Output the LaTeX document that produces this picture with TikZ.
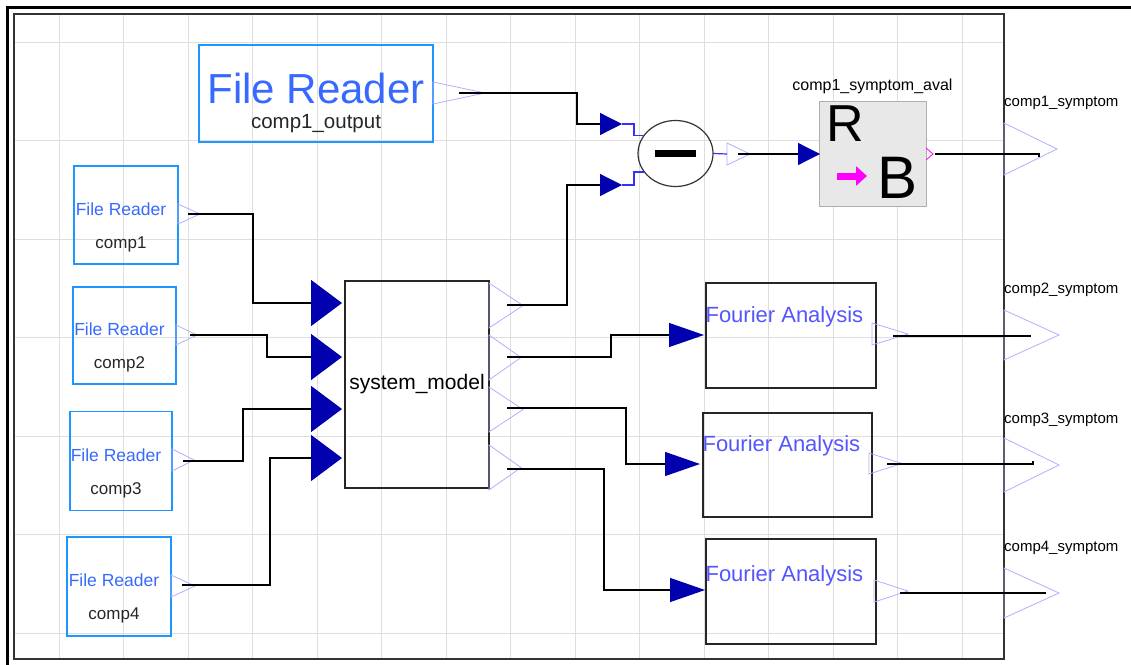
\documentclass[tikz,border=0pt]{standalone}
\usepackage{fontspec}
\setmainfont{Liberation Sans}
\usetikzlibrary{positioning, arrows.meta, shapes.geometric}

\definecolor{readerblue}{RGB}{30,150,255}
\definecolor{titleblue}{RGB}{55,105,255}
\definecolor{fourierblue}{RGB}{85,85,255}
\definecolor{portblue}{RGB}{175,175,255}
\definecolor{inblue}{RGB}{0,0,175}
\definecolor{linkblue}{RGB}{50,50,255}
\definecolor{gridgray}{RGB}{222,222,222}
\definecolor{avalfill}{RGB}{232,232,232}
\definecolor{avaldraw}{RGB}{175,175,175}
\definecolor{avalpink}{RGB}{255,0,255}

\begin{document}
\begin{tikzpicture}[
    x=1pt, y=-1pt,
    gridline/.style={
        draw=gridgray,
        line width=1pt
    },
    reader/.style={
        rectangle,
        draw=readerblue,
        line width=1.3pt,
        inner sep=0
    },
    readertitle/.style={
        text=titleblue,
        inner sep=0,
        font=\fontsize{17.5}{18}\selectfont
    },
    readername/.style={
        text=black!85,
        inner sep=0,
        font=\fontsize{17}{18}\selectfont
    },
    block/.style={
        rectangle,
        draw=black!85,
        line width=1.3pt,
        inner sep=0
    },
    fouriertext/.style={
        text=fourierblue,
        anchor=west,
        inner sep=0,
        font=\fontsize{22}{24}\selectfont
    },
    portlabel/.style={
        anchor=west,
        inner sep=0,
        font=\fontsize{15}{16}\selectfont
    },
    port/.style={draw=portblue, line width=0.8pt},
    wire/.style={draw=black, line width=1.2pt},
    link/.style={draw=linkblue, line width=1.2pt},
    feed/.style={-{Triangle[length=31pt, width=46pt, color=inblue]}},
    feedmid/.style={-{Triangle[length=35pt, width=24pt, color=inblue]}},
    feedsmall/.style={-{Triangle[length=22pt, width=22pt, color=inblue]}}
]
\useasboundingbox (0,0) rectangle (1131,664);

% Grid and frame
\foreach \gx in {0,...,14}
    \draw[gridline] ({59+64.5*\gx},14) -- ({59+64.5*\gx},659);
\foreach \gy in {0,...,6}
    \draw[gridline] (14,{42+98.5*\gy}) -- (1004,{42+98.5*\gy});
\draw[black!80, line width=1.5pt] (14,14) rectangle (1004,659);
\draw[line width=3pt] (7,670) -- (7,7) -- (1140,7);

% Big file reader
\node[reader, minimum width=234pt, minimum height=97pt] (bigreader) at (316,93.5) {};
\node[text=titleblue, inner sep=0, font=\fontsize{42}{44}\selectfont] at ([yshift=5.5pt]bigreader.center) {File Reader};
\node[readername, font=\fontsize{20.5}{22}\selectfont] at ([yshift=-30pt]bigreader.center) {comp1\_output};

% Small file readers
\node[reader, minimum width=104pt, minimum height=98pt] (reader1) at (126,215) {};
\node[reader, minimum width=103pt, minimum height=97pt] (reader2) at (124.5,335.5) {};
\node[reader, minimum width=102pt, minimum height=99pt] (reader3) at (121,461) {};
\node[reader, minimum width=104pt, minimum height=99pt] (reader4) at (119,586.5) {};
\foreach \r in {1,...,4} {
    \node[readertitle] at ([xshift=-5pt, yshift=6pt]reader\r.center) {File Reader};
    \node[readername] at ([xshift=-5pt, yshift=-29pt]reader\r.center) {comp\r};
}

% System model
\node[block, minimum width=144pt, minimum height=207pt, font=\fontsize{21}{22}\selectfont] (sysmodel) at (417,384.5) {system\_model};

% Subtraction
\node[ellipse, draw=black!80, line width=1.2pt, minimum width=75pt, minimum height=66pt, inner sep=0] (minus) at (675.5,153.5) {\rule{41pt}{7pt}};

% Symptom evaluation block
\node[rectangle, draw=avaldraw, fill=avalfill, line width=1pt, minimum width=107pt, minimum height=105pt] (aval) at (872.5,153.5) {};
\node[inner sep=0, font=\fontsize{52}{52}\selectfont] (avalr) at (845,124) {R};
\node[inner sep=0, font=\fontsize{60}{60}\selectfont] (avalb) at (897.5,177.5) {B};
\draw[avalpink, line width=7pt, -{Triangle[length=11pt, width=19pt]}] (837,176) -- (867,176);
\node[above=6pt of aval, inner sep=0, font=\fontsize{16}{17}\selectfont] (avallabel) {comp1\_symptom\_aval};

% Fourier analysis blocks
\node[block, minimum width=170pt, minimum height=105pt] (fourier1) at (791,335.5) {};
\node[block, minimum width=169pt, minimum height=104pt] (fourier2) at (787.5,465) {};
\node[block, minimum width=170pt, minimum height=105pt] (fourier3) at (791,591.5) {};
\node[fouriertext] at ([yshift=19pt]fourier1.west) {Fourier Analysis};
\node[fouriertext] at ([yshift=19pt]fourier2.west) {Fourier Analysis};
\node[fouriertext] at ([yshift=16pt]fourier3.west) {Fourier Analysis};

% Output port labels
\node[portlabel] (label1) at (1004,103) {comp1\_symptom};
\node[portlabel] (label2) at (1004,289.5) {comp2\_symptom};
\node[portlabel] (label3) at (1004,420) {comp3\_symptom};
\node[portlabel] (label4) at (1004,548) {comp4\_symptom};

% Output ports (base x / tip x / centre y / half height)
\foreach \bx/\tx/\cy/\hh in {433/485/93/11, 178/200/214/10, 176/197/335/10,
        172/194/460/11, 171/195/586/11, 489/523/305.5/22.5, 489/521/357.5/22.5,
        489/523/409.5/22.5, 489/521/467.5/22.5, 727/750/154/11, 872/908/334/11,
        869/902/463.5/10.5, 874/908/591/11, 1004/1057/149/26, 1004/1059/335/25,
        1004/1059/465/27, 1004/1059/593/25}
    \draw[port] (\bx,\cy-\hh) -- (\tx,\cy) -- (\bx,\cy+\hh) -- cycle;
\draw[avalpink, line width=0.8pt] (926,148) -- (933,154) -- (926,160);

% Connector ends
\coordinate (bigout) at (459,93);
\coordinate (reader1out) at (188,214);
\coordinate (reader2out) at (190,335);
\coordinate (reader3out) at (183,461);
\coordinate (reader4out) at (182,585);
\coordinate (sysin1) at (342,303);
\coordinate (sysin2) at (342,357);
\coordinate (sysin3) at (342,409);
\coordinate (sysin4) at (342,458);
\coordinate (sysout1) at (507,305);
\coordinate (sysout2) at (507,357);
\coordinate (sysout3) at (507,408);
\coordinate (sysout4) at (507,469);
\coordinate (minusin1) at (622,124);
\coordinate (minusin2) at (622,185);
\coordinate (minusout) at (727,154);
\coordinate (minuswire) at (738,154);
\coordinate (avalin) at (820,154);
\coordinate (avalout) at (935,154);
\coordinate (fourier1in) at (704,335);
\coordinate (fourier2in) at (700,464);
\coordinate (fourier3in) at (705,590);
\coordinate (fourier1out) at (893,336);
\coordinate (fourier2out) at (887,464);
\coordinate (fourier3out) at (900,593);
\coordinate (symptom1) at (1039,154);
\coordinate (symptom2) at (1031,336);
\coordinate (symptom3) at (1033,461);
\coordinate (symptom4) at (1046,593);

% Wires
\draw[wire, feed] (reader1out) -| ([xshift=-89pt]sysin1) -- (sysin1);
\draw[wire, feed] (reader2out) -| ([xshift=-75pt]sysin2) -- (sysin2);
\draw[wire, feed] (reader3out) -| ([xshift=-99pt]sysin3) -- (sysin3);
\draw[wire, feed] (reader4out) -| ([xshift=-72pt]sysin4) -- (sysin4);
\draw[wire, feedsmall] (bigout) -| ([xshift=-45pt]minusin1) -- (minusin1);
\draw[wire, feedsmall] (sysout1) -| ([xshift=-55pt]minusin2) -- (minusin2);
\draw[wire, feedmid] (sysout2) -| ([xshift=-93pt]fourier1in) -- (fourier1in);
\draw[wire, feedmid] (sysout3) -| ([xshift=-74pt]fourier2in) -- (fourier2in);
\draw[wire, feedmid] (sysout4) -| ([xshift=-101pt]fourier3in) -- (fourier3in);
\draw[link] (minusin1) -- ++(12,0) |- (minus.150);
\draw[link] (minusin2) -- ++(12,0) |- (minus.210);
\draw[link] (minus.east) -- (minusout);
\draw[wire, feedsmall] (minuswire) -- (avalin);
\draw[wire] (avalout) -- (symptom1) -- ++(0,3);
\draw[wire] (fourier1out) -- (symptom2);
\draw[wire] (fourier2out) -| (symptom3);
\draw[wire] (fourier3out) -- (symptom4);

\end{tikzpicture}
\end{document}
